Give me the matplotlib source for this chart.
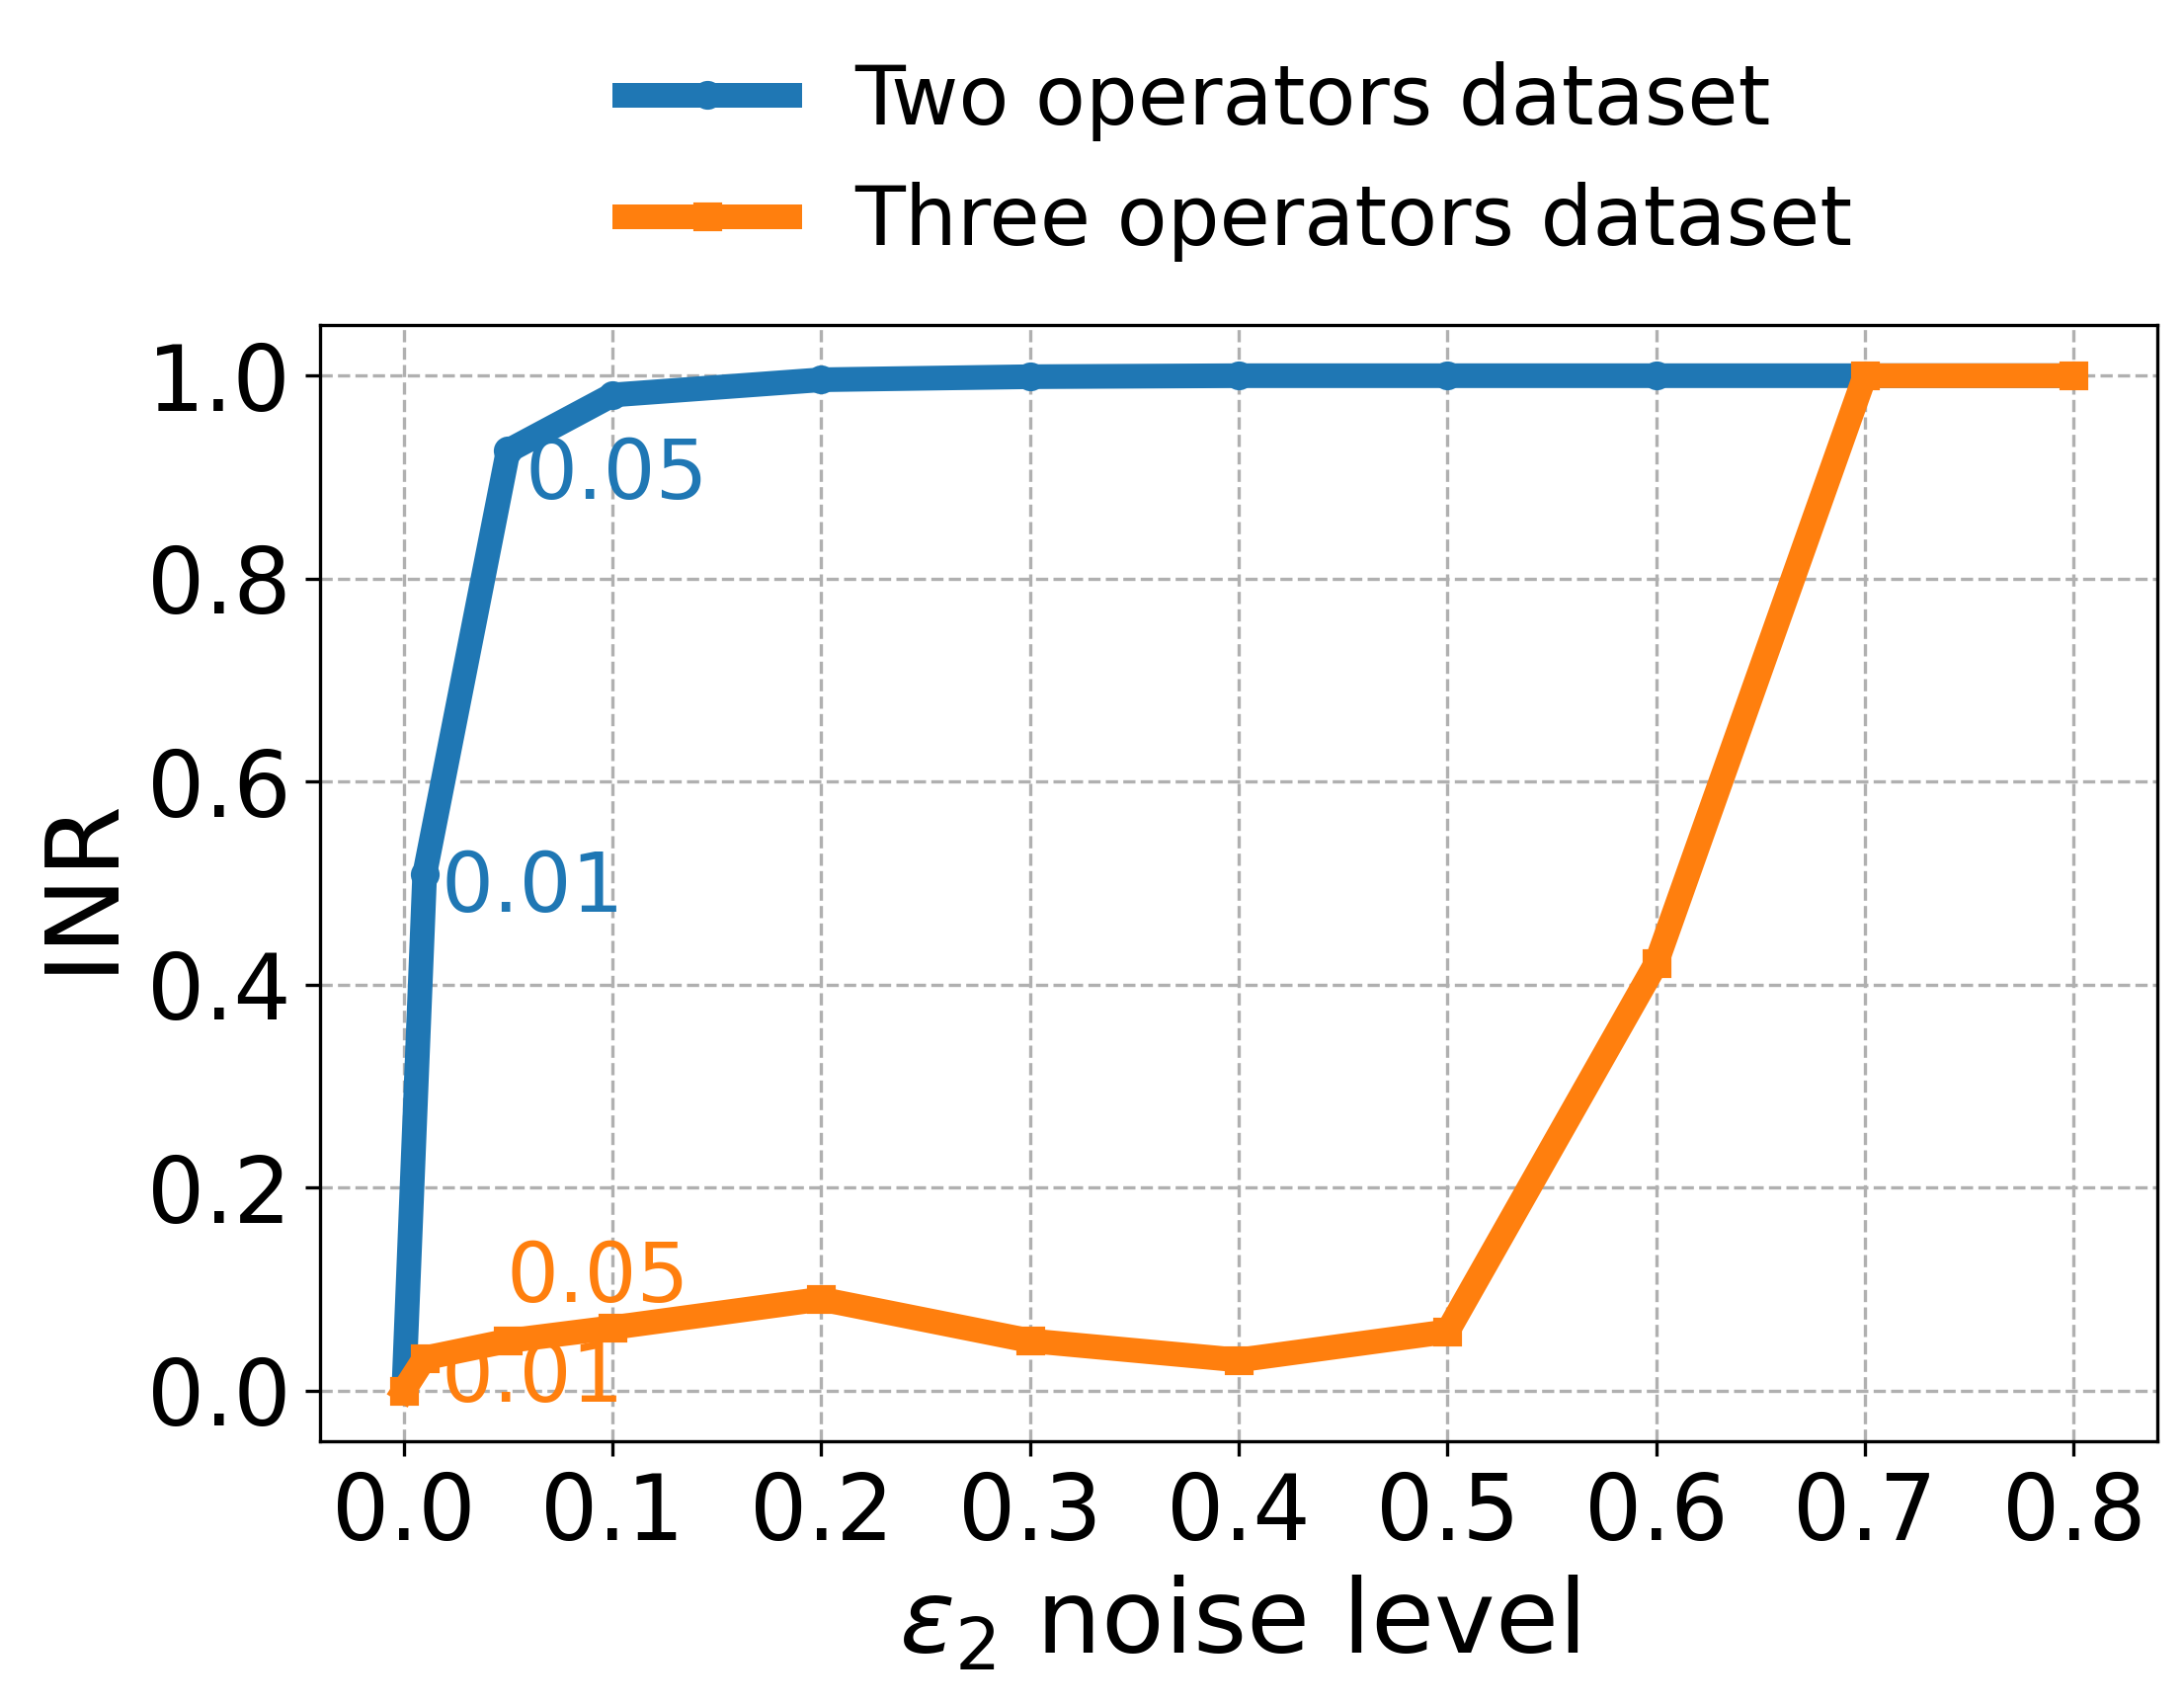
import matplotlib
matplotlib.use('Agg')
import matplotlib.pyplot as plt

# noise levels
eps = [0, 0.01, 0.05, 0.1, 0.2, 0.3, 0.4, 0.5, 0.6, 0.7, 0.8]
xticks = [0.0, 0.1, 0.2, 0.3, 0.4, 0.5, 0.6, 0.7, 0.8]

# INR values
two_ops = [0.0, 0.509, 0.926, 0.981, 0.996, 0.999, 1.0, 1.0, 1.0, 1.0, 1.0]
three_ops = [0.0, 0.032, 0.049, 0.062, 0.09, 0.049, 0.03, 0.058, 0.421, 1.0, 1.0]

fig = plt.figure(figsize=(7.3733, 5.75), dpi=300)
ax = fig.add_axes([0.1466, 0.1542, 0.8407, 0.6551])

ax.plot(eps, two_ops, color='tab:blue', linewidth=6, marker='o', markersize=6,
        label='Two operators dataset')
ax.plot(eps, three_ops, color='tab:orange', linewidth=6, marker='s', markersize=6,
        label='Three operators dataset')

# labels for the small noise levels
ax.annotate('0.01', (eps[1], two_ops[1]), xytext=(4, -3.5),
            textcoords='offset points', ha='left', va='center',
            color='tab:blue', fontsize=20)
ax.annotate('0.05', (eps[2], two_ops[2]), xytext=(4, -6),
            textcoords='offset points', ha='left', va='center',
            color='tab:blue', fontsize=20)
ax.annotate('0.01', (eps[1], three_ops[1]), xytext=(4, -5),
            textcoords='offset points', ha='left', va='center',
            color='tab:orange', fontsize=20)
ax.annotate('0.05', (eps[2], three_ops[2]), xytext=(-0.5, 15),
            textcoords='offset points', ha='left', va='center',
            color='tab:orange', fontsize=20)

ax.set_xticks(xticks)
ax.set_xlabel(r'$\varepsilon_2$ noise level', fontsize=25)
ax.set_ylabel('INR', fontsize=25)
ax.tick_params(labelsize=22)
ax.grid(True, linestyle='--')

ax.legend(loc='lower center', bbox_to_anchor=(0.5, 0.99), frameon=False,
          fontsize=20, ncol=1)

fig.savefig('out.png', dpi=300)
